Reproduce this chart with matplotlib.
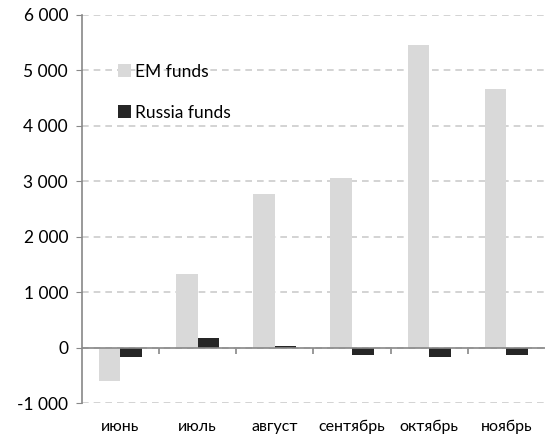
import matplotlib
matplotlib.use("Agg")
import matplotlib.pyplot as plt
import numpy as np

# данные с графика
months = ["июнь", "июль", "август", "сентябрь", "октябрь", "ноябрь"]
em_funds = [-610, 1320, 2780, 3060, 5450, 4670]
russia_funds = [-160, 180, 25, -130, -170, -140]

plt.rcParams['font.family'] = ['Lato', 'DejaVu Sans']

fig = plt.figure(figsize=(5.46, 4.41), dpi=100)
ax = fig.add_axes([0.150, 0.086, 0.848, 0.880])

x = np.arange(len(months))
w = 0.28
ax.bar(x - w / 2, em_funds, w, color="#d9d9d9", label="EM funds", zorder=3)
ax.bar(x + w / 2, russia_funds, w, color="#262626", label="Russia funds", zorder=3)

ax.set_xlim(-0.5, len(months) - 0.5)
ax.set_ylim(-1000, 6000)
ax.set_yticks(np.arange(-1000, 6001, 1000))
ax.set_yticklabels([("{:,}".format(v)).replace(",", " ") for v in range(-1000, 6001, 1000)])
ax.yaxis.grid(True, linestyle=(0, (4, 3)), color="#cccccc", linewidth=1.2, zorder=0)

ax.set_xticks(x)
ax.set_xticklabels(months)
ax.tick_params(axis="x", length=0, pad=12, labelsize=11.5)
ax.tick_params(axis="y", length=4, color="#888888", labelsize=12.5, pad=6)

for s in ["top", "right", "bottom"]:
    ax.spines[s].set_visible(False)
ax.spines["left"].set_color("#888888")
ax.spines["left"].set_linewidth(1.2)

# нулевая линия с делениями между месяцами
ax.axhline(0, color="#888888", linewidth=1.2, zorder=4)
sec = ax.secondary_xaxis(1 / 7)
sec.set_xticks(x[:-1] + 0.5)
sec.set_xticklabels([])
sec.tick_params(length=4, color="#888888", width=1.2)
sec.spines["bottom"].set_visible(False)

ax.legend(loc="upper left", bbox_to_anchor=(0.045, 0.915), frameon=False,
          fontsize=12.5, labelspacing=1.45, handlelength=0.75, handleheight=0.75,
          handletextpad=0.2)

fig.savefig("out.png", dpi=100)
